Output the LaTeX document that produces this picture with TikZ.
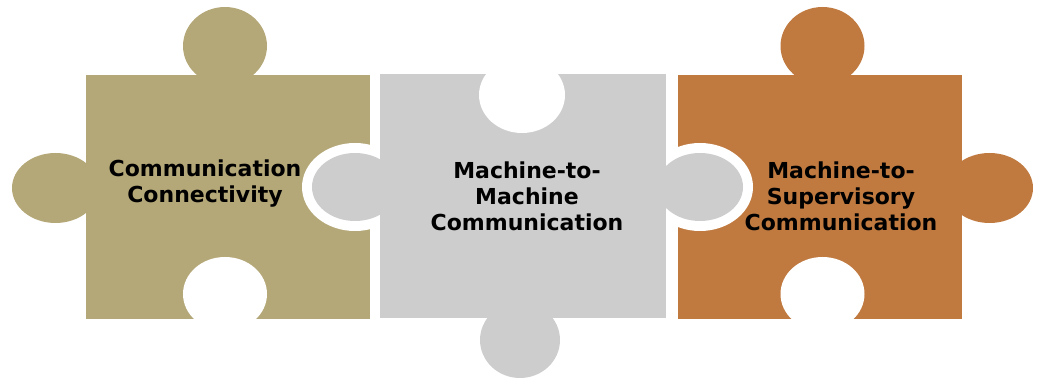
\documentclass[tikz,border=0pt]{standalone}
\usepackage{fontspec}
\setmainfont{DejaVu Sans}
\usepackage{tikz}
\definecolor{tanfill}{RGB}{181,168,120}
\definecolor{greyfill}{RGB}{205,205,205}
\definecolor{rustfill}{RGB}{192,122,64}
\tikzstyle{tanpiece} = [fill=tanfill]
\tikzstyle{greypiece} = [fill=greyfill]
\tikzstyle{rustpiece} = [fill=rustfill]
\tikzstyle{cutout} = [fill=white]
\tikzstyle{piecetext} = [align=center, inner sep=0pt, font=\bfseries\fontsize{22}{26}\selectfont]

\begin{document}
\begin{tikzpicture}[x=1pt, y=-1pt]
\useasboundingbox (0,0) rectangle (1042,379);

% left piece
\fill [tanpiece] (86,75) rectangle (370,319);
\fill [tanpiece] (225,46) ellipse [x radius=42pt, y radius=39pt];
\fill [tanpiece] (55.5,188) ellipse [x radius=43.5pt, y radius=35pt];
\fill [cutout] (225,294) ellipse [x radius=42pt, y radius=37pt];

% right piece
\fill [rustpiece] (678,75) rectangle (962,319);
\fill [rustpiece] (822.5,46) ellipse [x radius=42pt, y radius=39pt];
\fill [rustpiece] (989.5,188) ellipse [x radius=43.5pt, y radius=35pt];
\fill [cutout] (822.5,294) ellipse [x radius=42pt, y radius=37pt];

% white rims round the grey knobs
\fill [cutout] (355,187) ellipse [x radius=53pt, y radius=44pt];
\fill [cutout] (700,187) ellipse [x radius=53pt, y radius=44pt];

% middle piece
\fill [greypiece] (380,74) rectangle (666,318);
\fill [greypiece] (355,187) ellipse [x radius=43pt, y radius=34pt];
\fill [greypiece] (700,187) ellipse [x radius=43pt, y radius=34pt];
\fill [greypiece] (520,340) ellipse [x radius=40pt, y radius=38pt];
\fill [cutout] (522,95) ellipse [x radius=43pt, y radius=38pt];

\node (connect) [piecetext] at (205,184) {Communication\\Connectivity};
\node (m2m) [piecetext] at (527,196) {Machine-to-\\Machine\\Communication};
\node (m2s) [piecetext] at (841,196) {Machine-to-\\Supervisory\\Communication};

\end{tikzpicture}
\end{document}
